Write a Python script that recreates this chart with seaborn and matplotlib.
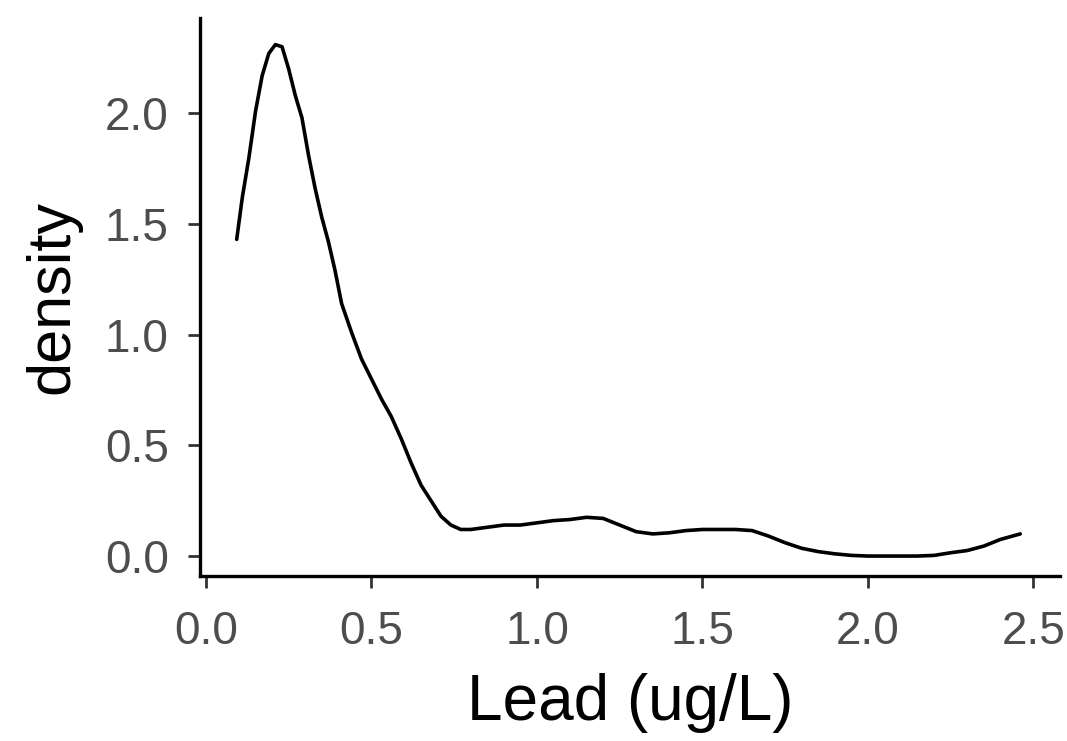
import matplotlib
matplotlib.use("Agg")
import matplotlib.pyplot as plt
import seaborn as sns
import pandas as pd

# Kernel density estimate of lead concentration, evaluated on a grid
lead = [0.093, 0.11, 0.13, 0.15, 0.17, 0.19, 0.21, 0.23, 0.25, 0.27, 0.29,
        0.31, 0.33, 0.35, 0.37, 0.39, 0.41, 0.44, 0.47, 0.50, 0.53, 0.56,
        0.59, 0.62, 0.65, 0.68, 0.71, 0.74, 0.77, 0.80, 0.85, 0.90, 0.95,
        1.00, 1.05, 1.10, 1.15, 1.20, 1.25, 1.30, 1.35, 1.40, 1.45, 1.50,
        1.55, 1.60, 1.65, 1.70, 1.75, 1.80, 1.85, 1.90, 1.95, 2.00, 2.05,
        2.10, 2.15, 2.20, 2.25, 2.30, 2.35, 2.40, 2.46]
density = [1.43, 1.62, 1.80, 2.01, 2.17, 2.27, 2.31, 2.30, 2.20, 2.08, 1.98,
           1.81, 1.66, 1.53, 1.42, 1.29, 1.14, 1.01, 0.89, 0.80, 0.71, 0.63,
           0.53, 0.42, 0.32, 0.25, 0.18, 0.14, 0.12, 0.12, 0.13, 0.14, 0.14,
           0.15, 0.16, 0.165, 0.175, 0.17, 0.14, 0.11, 0.10, 0.105, 0.115, 0.12,
           0.12, 0.12, 0.115, 0.09, 0.06, 0.035, 0.02, 0.01, 0.003, 0.0, 0.0,
           0.0, 0.0, 0.003, 0.015, 0.025, 0.045, 0.075, 0.10]

x_ticks = [0.0, 0.5, 1.0, 1.5, 2.0, 2.5]
y_ticks = [0.0, 0.5, 1.0, 1.5, 2.0]

df = pd.DataFrame({"Lead (ug/L)": lead, "density": density})

sns.set_theme(style="ticks")
plt.rcParams["font.family"] = ["Liberation Sans", "DejaVu Sans"]

fig = plt.figure(figsize=(10.67, 7.41), dpi=100)
ax = fig.add_axes([0.1874, 0.2227, 0.806, 0.7530])

sns.lineplot(data=df, x="Lead (ug/L)", y="density", color="black",
             linewidth=2.6, ax=ax, sort=False)

ax.set_xlim(-0.018, 2.58)
ax.set_ylim(-0.09, 2.43)
ax.set_xticks(x_ticks)
ax.set_yticks(y_ticks)
ax.set_xticklabels([f"{v:.1f}" for v in x_ticks])
ax.set_yticklabels([f"{v:.1f}" for v in y_ticks])

for side in ("top", "right"):
    ax.spines[side].set_visible(False)
for side in ("left", "bottom"):
    ax.spines[side].set_linewidth(2.4)
    ax.spines[side].set_color("black")

ax.tick_params(axis="both", length=8.5, width=2.0, color="#333333",
               labelsize=33, labelcolor="#4D4D4D")
ax.tick_params(axis="x", pad=16)
ax.tick_params(axis="y", pad=14)
ax.set_xlabel("Lead (ug/L)", fontsize=46, color="black", labelpad=14)
ax.set_ylabel("density", fontsize=44, color="black", labelpad=17)

fig.savefig("out.png", dpi=100)
